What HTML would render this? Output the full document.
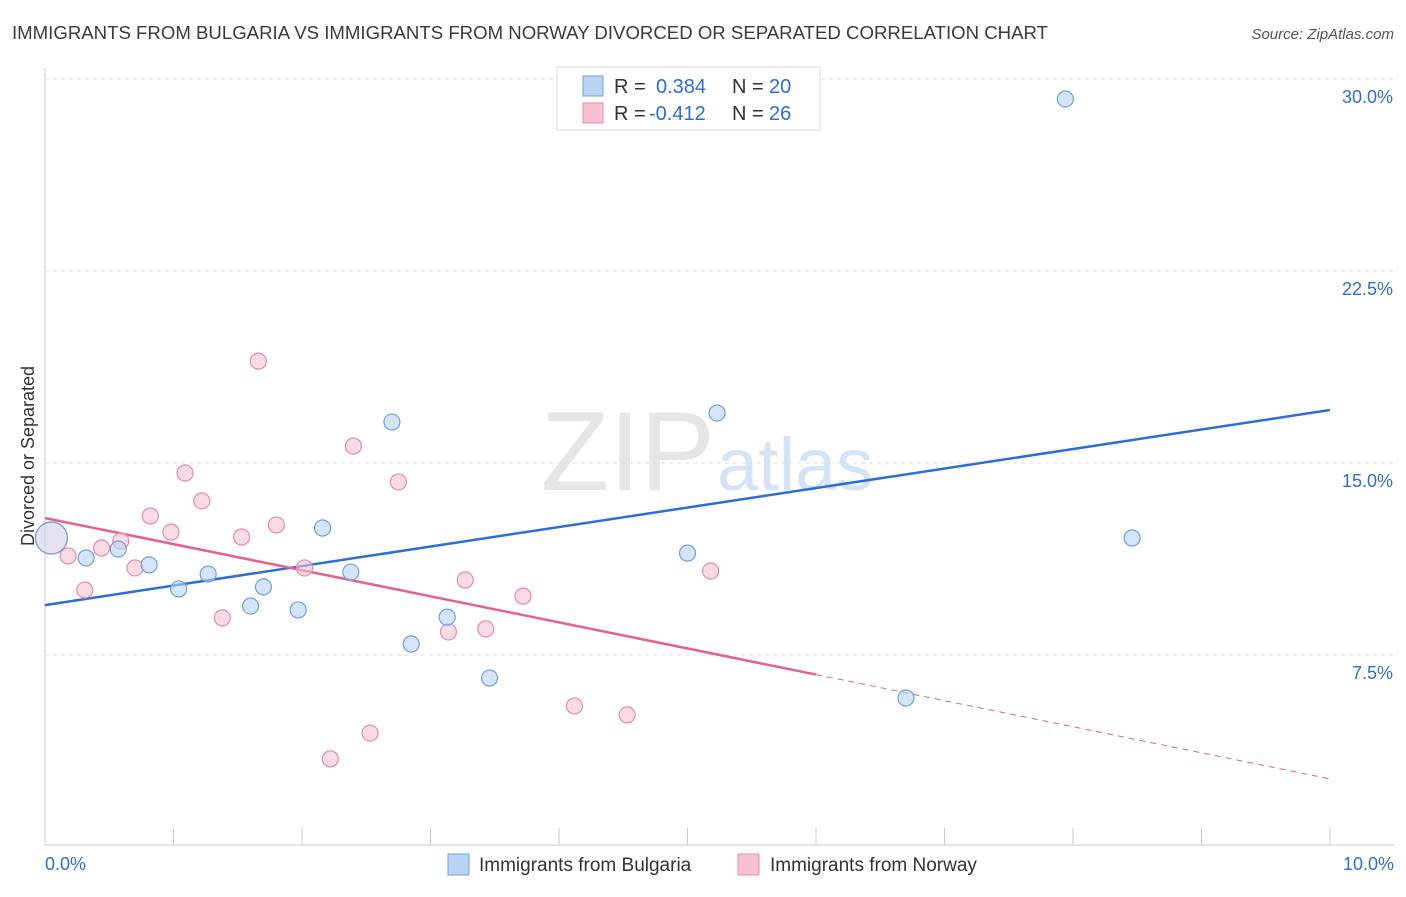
<!DOCTYPE html>
<html><head><meta charset="utf-8"><style>
body{margin:0;background:#fff;font-family:"Liberation Sans",sans-serif}
svg text{font-family:"Liberation Sans",sans-serif}
</style></head><body>
<svg width="1406" height="892" viewBox="0 0 1406 892" id="chart">
<text x="12" y="39" font-size="18" fill="#3a3a3a" textLength="1036" lengthAdjust="spacingAndGlyphs">IMMIGRANTS FROM BULGARIA VS IMMIGRANTS FROM NORWAY DIVORCED OR SEPARATED CORRELATION CHART</text>
<text x="1394" y="39" font-size="15" fill="#555" text-anchor="end" font-style="italic">Source: ZipAtlas.com</text>
<text x="715" y="490" font-size="112" fill="#e6e6e6" text-anchor="end" font-family="Liberation Serif">ZIP</text>
<text x="717" y="490" font-size="74" fill="#d4e3f5">atlas</text>
<text transform="translate(34,456) rotate(-90)" font-size="18" fill="#333" text-anchor="middle">Divorced or Separated</text>
<g id="grid"></g><g id="axes"></g><g id="trends"></g><g id="points"></g>
<g>
<rect x="557" y="67" width="263" height="63" fill="#fff" stroke="#d8d8d8"/>
<rect x="583" y="76" width="20" height="20" fill="#b9d3f3" stroke="#6f9fe0"/>
<rect x="583" y="103" width="20" height="20" fill="#f7c3d3" stroke="#e88aa8"/>
<text x="614" y="93" font-size="20" fill="#333">R =</text>
<text x="656" y="93" font-size="20" fill="#2b6fd6">0.384</text>
<text x="732" y="93" font-size="20" fill="#333">N =</text>
<text x="769" y="93" font-size="20" fill="#2b6fd6">20</text>
<text x="614" y="120" font-size="20" fill="#333">R =</text>
<text x="649" y="120" font-size="20" fill="#2b6fd6">-0.412</text>
<text x="732" y="120" font-size="20" fill="#333">N =</text>
<text x="769" y="120" font-size="20" fill="#2b6fd6">26</text>
</g>
<g>
<rect x="448" y="854" width="21" height="21" fill="#b9d3f3" stroke="#6f9fe0"/>
<text x="479" y="871" font-size="19" fill="#333">Immigrants from Bulgaria</text>
<rect x="738" y="854" width="21" height="21" fill="#f7c3d3" stroke="#e88aa8"/>
<text x="770" y="871" font-size="19" fill="#333">Immigrants from Norway</text>
</g>
</svg>
<script>
const yTicks=[7.5,15,22.5,30];
const yTickLabels=["7.5%","15.0%","22.5%","30.0%"];
const xTickLabels=["0.0%","10.0%"];
const bulgariaX=[0.05,0.32,0.57,0.81,1.04,1.27,1.60,1.70,1.97,2.16,2.38,2.70,2.85,3.13,3.46,5.00,5.23,6.70,7.94,8.46];
const bulgariaY=[12.07,11.29,11.64,11.02,10.08,10.66,9.41,10.16,9.26,12.46,10.74,16.60,7.93,8.98,6.60,11.48,16.95,5.82,29.22,12.07];
const norwayX=[0.05,0.18,0.31,0.44,0.59,0.70,0.82,0.98,1.09,1.22,1.38,1.53,1.66,1.80,2.02,2.22,2.40,2.53,2.75,3.14,3.27,3.43,3.72,4.12,4.53,5.18];
const norwayY=[12.07,11.37,10.04,11.68,11.95,10.90,12.93,12.30,14.61,13.52,8.95,12.11,18.98,12.58,10.90,3.44,15.66,4.45,14.26,8.40,10.43,8.52,9.80,5.51,5.16,10.78];
const bulgariaTrend=[9.45,17.07];
const norwayTrend=[12.85,2.66];
const norwaySolidEnd=6.0;
const NS="http://www.w3.org/2000/svg";
const X=v=>45+v*128.5, Y=v=>847-v*25.6;
function mk(parent,tag,attrs){const e=document.createElementNS(NS,tag);for(const k in attrs)e.setAttribute(k,attrs[k]);document.getElementById(parent).appendChild(e);return e;}
yTicks.forEach((t,i)=>{
 const l=mk('grid','line',{x1:45,x2:1394,y1:Y(t),y2:Y(t),stroke:'#ddd','stroke-dasharray':'4,4'});
 
 
 const tx=mk('grid','text',{x:1393,y:Y(t)+24,'font-size':18,fill:'#2b6fd6','text-anchor':'end'});
 tx.textContent=yTickLabels[i];
 
 
});
const ax=mk('axes','line',{x1:45,x2:45,y1:68,y2:845,stroke:'#ccc'});


const bx=mk('axes','line',{x1:45,x2:1394,y1:845,y2:845,stroke:'#ccc'});


for(let i=0;i<=10;i++){
 const t=mk('axes','line',{x1:X(i),x2:X(i),y1:828,y2:845,stroke:'#ccc'});
 
 
}
[[0,'start',45],[10,'end',1394]].forEach((d,i)=>{
 const tx=mk('axes','text',{x:d[2],y:870,'font-size':18,fill:'#2b6fd6','text-anchor':d[1]});
 tx.textContent=xTickLabels[i];
 
 
});
const nAt=x=>norwayTrend[0]+(norwayTrend[1]-norwayTrend[0])*x/10;
let l1=mk('trends','line',{x1:X(0),y1:Y(bulgariaTrend[0]),x2:X(10),y2:Y(bulgariaTrend[1]),stroke:'#2b6fd6','stroke-width':2.5});


let l2=mk('trends','line',{x1:X(0),y1:Y(norwayTrend[0]),x2:X(norwaySolidEnd),y2:Y(nAt(norwaySolidEnd)),stroke:'#e5608a','stroke-width':2.5});


let l3=mk('trends','line',{x1:X(norwaySolidEnd),y1:Y(nAt(norwaySolidEnd)),x2:X(10),y2:Y(norwayTrend[1]),stroke:'#e5608a','stroke-width':1,'stroke-dasharray':'6,5'});


function pts(xs,ys,fill,stroke,name){xs.forEach((x,i)=>{
 const c=mk('points','circle',{cx:X(x),cy:Y(ys[i]),r:i===0?16:8,fill:fill,'fill-opacity':i===0?0.35:0.6,stroke:stroke,'stroke-width':1.2});
 
 
});}
pts(norwayX,norwayY,'#f7c3d3','#e88aa8','norway-point');
pts(bulgariaX,bulgariaY,'#b9d3f3','#6f9fe0','bulgaria-point');
</script>
</body></html>
